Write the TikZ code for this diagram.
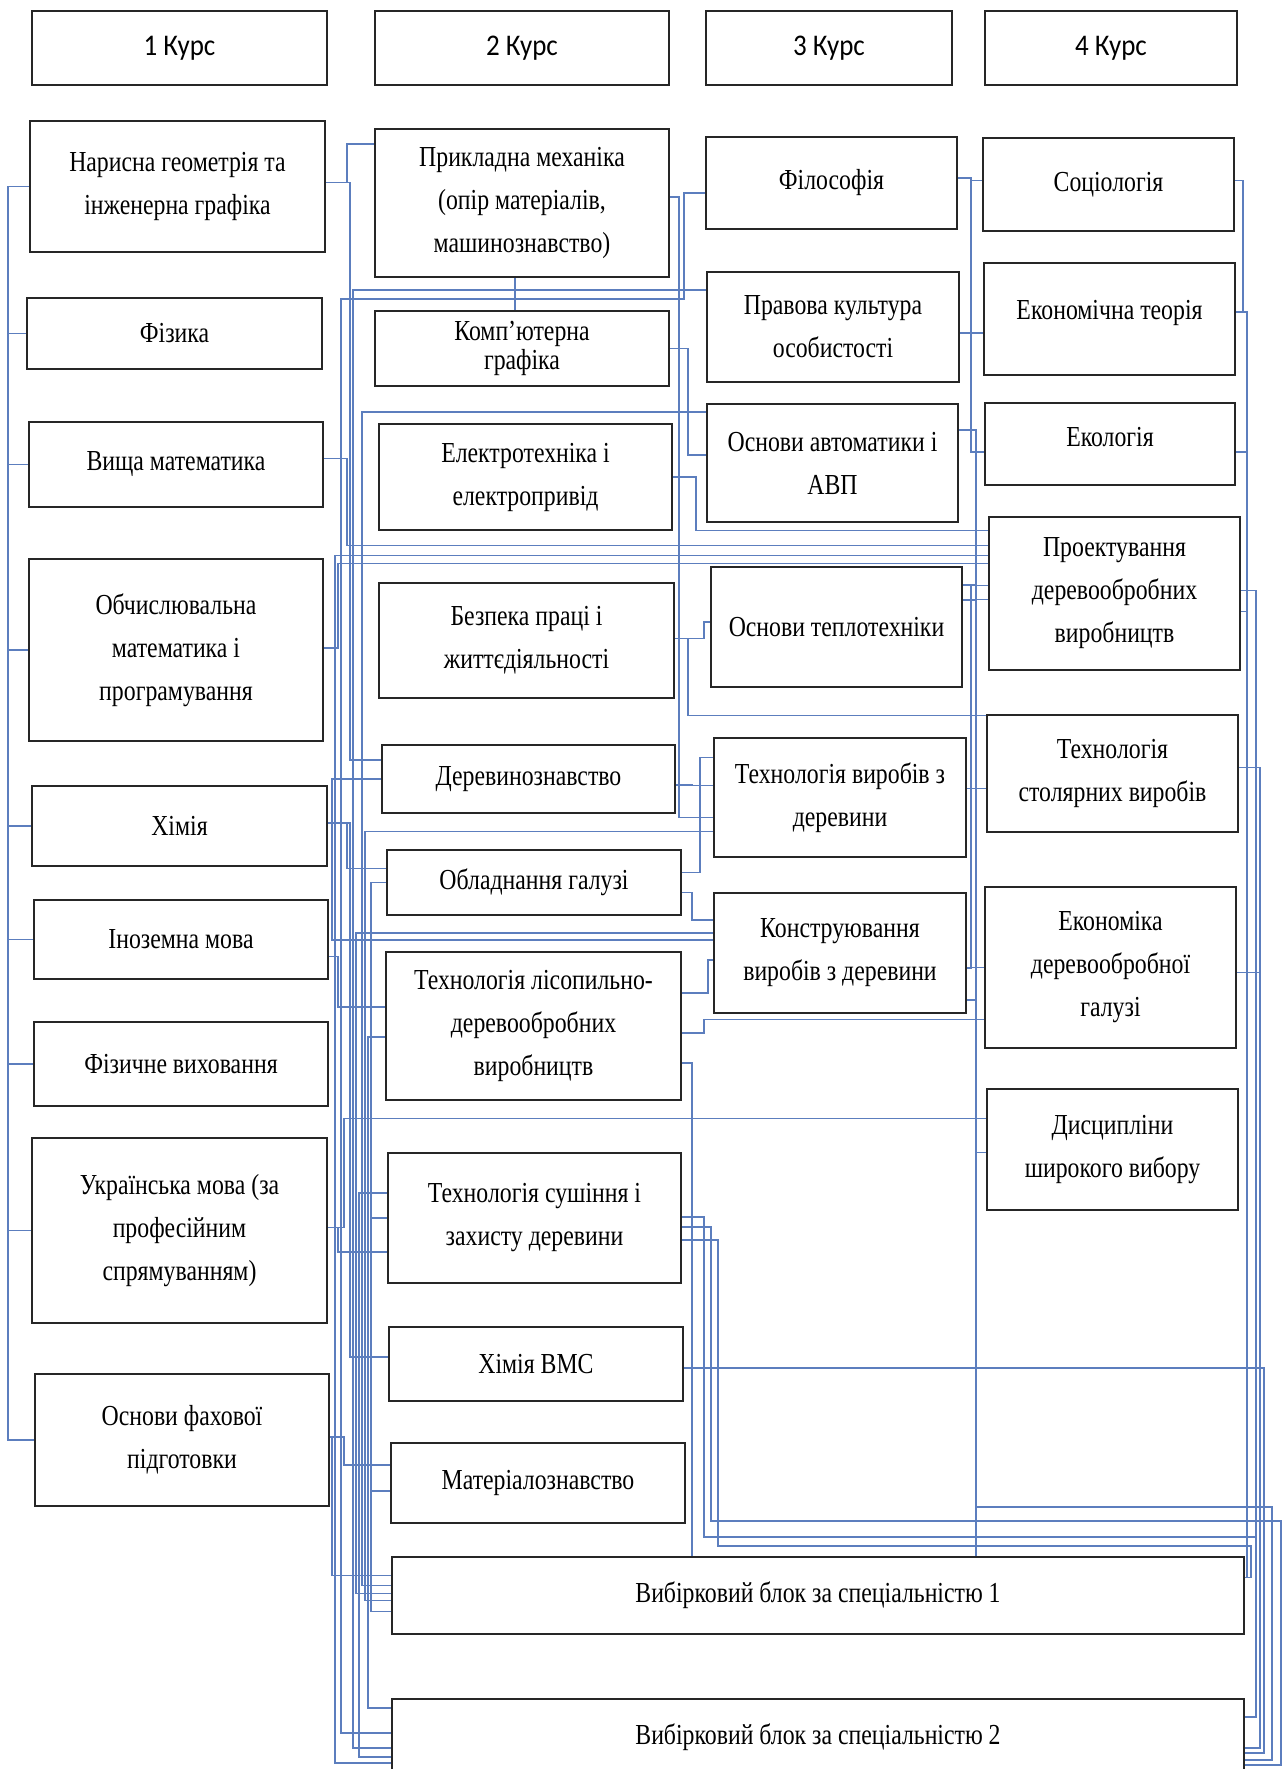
\documentclass[tikz,border=0pt]{standalone}
\usepackage{fontspec}
\setmainfont{Liberation Serif}[FakeStretch=0.82]
\newfontfamily\kursfont{Carlito}[FakeStretch=0.9]
\usetikzlibrary{backgrounds}
\definecolor{linkblue}{RGB}{92,126,190}

\tikzset{
  subj/.style={draw=black!85, line width=2.2pt, fill=white, align=center,
    inner sep=0pt, font=\fontsize{29}{43}\selectfont},
  kurs/.style={subj, font=\kursfont\fontsize{30}{35}\selectfont},
  link/.style={draw=linkblue, line width=1.1pt},
}

\begin{document}
\begin{tikzpicture}[x=1pt,y=-1pt]
  \useasboundingbox (0,0) rectangle (1285,1769);
  \clip (0,0) rectangle (1285,1769);

  % course headers
  \node[kurs, minimum width=295, minimum height=74] (h1) at (179.5,48) {1 Курс};
  \node[kurs, minimum width=294, minimum height=74] (h2) at (522,48) {2 Курс};
  \node[kurs, minimum width=246, minimum height=74] (h3) at (829,48) {3 Курс};
  \node[kurs, minimum width=252, minimum height=74] (h4) at (1111,48) {4 Курс};

  % 1 course
  \node[subj, minimum width=295, minimum height=131] (nar) at (177.5,186.5) {Нарисна геометрія та\\інженерна графіка};
  \node[subj, minimum width=295, minimum height=71] (fiz) at (174.5,333.5) {Фізика};
  \node[subj, minimum width=294, minimum height=85] (vyshch) at (176,464.5) {Вища математика};
  \node[subj, minimum width=294, minimum height=182] (obch) at (176,650) {Обчислювальна\\математика і\\програмування};
  \node[subj, minimum width=295, minimum height=80] (khim) at (179.5,826) {Хімія};
  \node[subj, minimum width=294, minimum height=79] (inoz) at (181,939.5) {Іноземна мова};
  \node[subj, minimum width=294, minimum height=84] (fizv) at (181,1064) {Фізичне виховання};
  \node[subj, minimum width=295, minimum height=185] (ukr) at (179.5,1230.5) {Українська мова (за\\професійним\\спрямуванням)};
  \node[subj, minimum width=294, minimum height=132] (osnf) at (182,1440) {Основи фахової\\підготовки};

  % 2 course
  \node[subj, minimum width=294, minimum height=148] (prik) at (522,203) {Прикладна механіка\\(опір матеріалів,\\машинознавство)};
  \node[subj, minimum width=294, minimum height=75] (komp) at (522,348.5) {Комп’ютерна\\[-14pt]графіка};
  \node[subj, minimum width=293, minimum height=106] (elek) at (525.5,477) {Електротехніка і\\електропривід};
  \node[subj, minimum width=295, minimum height=115] (bezp) at (526.5,640.5) {Безпека праці і\\життєдіяльності};
  \node[subj, minimum width=293, minimum height=68] (derev) at (528.5,779) {Деревинознавство};
  \node[subj, minimum width=294, minimum height=65] (oblad) at (534,882.5) {Обладнання галузі};
  \node[subj, minimum width=295, minimum height=148] (lisop) at (533.5,1026) {Технологія лісопильно-\\деревообробних\\виробництв};
  \node[subj, minimum width=293, minimum height=130] (sush) at (534.5,1218) {Технологія сушіння і\\захисту деревини};
  \node[subj, minimum width=294, minimum height=74] (khvms) at (536,1364) {Хімія ВМС};
  \node[subj, minimum width=294, minimum height=80] (mater) at (538,1483) {Матеріалознавство};

  % 3 course
  \node[subj, minimum width=251, minimum height=92] (filos) at (831.5,183) {Філософія};
  \node[subj, minimum width=252, minimum height=110] (prav) at (833,327) {Правова культура\\особистості};
  \node[subj, minimum width=251, minimum height=118] (avt) at (832.5,463) {Основи автоматики і\\АВП};
  \node[subj, minimum width=251, minimum height=120] (tepl) at (836.5,627) {Основи теплотехніки};
  \node[subj, minimum width=252, minimum height=119] (tvyr) at (840,797.5) {Технологія виробів з\\деревини};
  \node[subj, minimum width=252, minimum height=120] (konstr) at (840,953) {Конструювання\\виробів з деревини};

  % 4 course
  \node[subj, minimum width=251, minimum height=93] (sots) at (1108.5,184.5) {Соціологія};
  \node[subj, minimum width=251, minimum height=112] (ekt) at (1109.5,319) {\raisebox{19pt}{Економічна теорія}};
  \node[subj, minimum width=250, minimum height=82] (ekol) at (1110,444) {\raisebox{14pt}{Екологія}};
  \node[subj, minimum width=251, minimum height=153] (proekt) at (1114.5,593.5) {Проектування\\деревообробних\\виробництв};
  \node[subj, minimum width=251, minimum height=117] (tstol) at (1112.5,773.5) {Технологія\\столярних виробів};
  \node[subj, minimum width=251, minimum height=161] (ekon) at (1110.5,967.5) {Економіка\\деревообробної\\галузі};
  \node[subj, minimum width=251, minimum height=121] (dysc) at (1112.5,1149.5) {Дисципліни\\широкого вибору};

  % elective blocks
  \node[subj, minimum width=852, minimum height=77] (vyb1) at (818,1595.5) {Вибірковий блок за спеціальністю 1};
  \node[subj, minimum width=852, minimum height=76] (vyb2) at (818,1737) {Вибірковий блок за спеціальністю 2};

  % channels between the columns
  \coordinate (lbus) at (8,0);
  \foreach \n/\x in {a/332,b/335,c/338,d/341,e/344,f/347,g/350,h/353,i/356,j/359,k/362,l/365,m/368,n/371}
    \coordinate (g1\n) at (\x,0);
  \foreach \n/\x in {x/679,a/684,b/688,c/692,d/696,e/700,f/704,g/708,h/711,i/718}
    \coordinate (g2\n) at (\x,0);
  \coordinate (g3a) at (971,0);
  \coordinate (g3b) at (976,0);
  \foreach \n/\x in {a/1243,b/1247,c/1251,d/1256,e/1260,f/1264,g/1272,h/1281}
    \coordinate (r\n) at (\x,0);

  \begin{scope}[on background layer]
    % 1 course bracket
    \draw[link] (nar.west) -- (nar.west -| lbus) -- (osnf.west -| lbus) -- (osnf.west);
    \foreach \n in {fiz,vyshch,obch,khim,inoz,fizv,ukr}
      \draw[link] (\n.west) -- (\n.west -| lbus);

    % elbow links: from / shift / channel / to / shift
    \foreach \s/\a/\c/\t/\b in {
        nar.east/4/g1f/prik.west/59, nar.east/4/g1g/derev.west/19,
        vyshch.east/6/g1f/proekt.west/48, obch.east/2/g1c/proekt.west/30,
        khim.east/3/g1f/oblad.west/14, khim.east/3/g1g/khvms.west/7,
        inoz.east/-17/g1c/lisop.west/19, ukr.east/3/g1c/sush.west/-34,
        ukr.east/3/g1e/dysc.west/31, osnf.east/3/g1e/mater.west/18,
        osnf.east/3/g1a/vyb1.west/20,
        proekt.west/38/g1b/vyb2.west/-26, prav.west/37/g1h/vyb2.west/-11,
        avt.west/51/g1k/vyb1.west/10, konstr.west/20/g1i/vyb1.west/2,
        tvyr.west/-34/g1l/vyb1.west/-5, derev.west/0/g1a/konstr.west/13,
        oblad.west/0/g1n/mater.west/-8, sush.west/0/g1n/vyb1.west/-16,
        lisop.west/-11/g1m/vyb2.west/29, sush.west/25/g1j/vyb2.west/-20,
        prik.east/6/g2x/tvyr.west/-20, komp.east/0/g2b/avt.west/8,
        elek.east/0/g2d/proekt.west/63, bezp.east/2/g2f/tepl.west/5,
        bezp.east/2/g2b/tstol.west/58, derev.east/-6/g2c/tvyr.west/12,
        oblad.east/10/g2e/tvyr.west/40, oblad.east/-10/g2c/konstr.west/33,
        lisop.east/33/g2g/konstr.west/-7, lisop.east/-7/g2f/ekon.west/-52,
        filos.east/5/g3a/sots.west/4, filos.east/5/g3a/ekt.west/-14,
        prav.east/-6/g3a/ekt.west/-14, prav.east/-6/g3a/ekol.west/-8,
        avt.east/33/g3a/ekol.west/-8, avt.east/33/g3b/proekt.west/-6,
        tepl.east/42/g3b/proekt.west/8, tepl.east/42/g3a/tstol.west/-15,
        tvyr.east/9/g3a/tstol.west/-15, tvyr.east/9/g3a/ekon.west/0,
        konstr.east/-15/g3a/ekon.west/0, konstr.east/-47/g3b/dysc.west/-3,
        sots.east/4/ra/ekt.east/7, ekt.east/7/rb/vyb1.east/18,
        ekol.east/-8/rb/vyb1.east/18, proekt.east/-18/rb/vyb1.east/18,
        proekt.east/3/rd/vyb2.east/20, tstol.east/6/re/vyb2.east/-11,
        ekon.east/-5/re/vyb2.east/-11}
      \draw[link] ([yshift=\a]\s) -- ([yshift=\a]\s -| \c) |- ([yshift=\b]\t);

    % longer runs
    \draw[link] ([yshift=-10]filos.west) -- ([yshift=-10]filos.west -| g2a) -- ++(0,106)
      -| ([yshift=4]vyb2.west -| g1d) -- ([yshift=4]vyb2.west);
    \draw[link] ([yshift=-37]lisop.east) -- ([yshift=-37]lisop.east -| g2c) -- (g2c |- vyb1.north);
    \draw[link] ([yshift=1]sush.east) -- ([yshift=1]sush.east -| g2f) -- ++(0,320)
      -| ([yshift=20]vyb2.east -| rd) -- ([yshift=20]vyb2.east);
    \draw[link] ([yshift=-9]sush.east) -- ([yshift=-9]sush.east -| g2h) -- ++(0,294)
      -| ([yshift=-28]vyb2.east -| rh) -- ([yshift=-28]vyb2.east);
    \draw[link] ([yshift=-22]sush.east) -- ([yshift=-22]sush.east -| g2i) -- ++(0,306)
      -| ([yshift=18]vyb1.east -| rc) -- ([yshift=18]vyb1.east);
    \draw[link] ([yshift=-4]khvms.east) -| ([yshift=-16]vyb2.east -| rf) -- ([yshift=-16]vyb2.east);
    \draw[link] ([yshift=27]tepl.east) -- ([yshift=27]tepl.east -| g3b) -- ++(0,907)
      -| ([yshift=-23]vyb2.east -| rg) -- ([yshift=-23]vyb2.east);
    \draw[link] ([yshift=-47]konstr.east) -- ([yshift=-47]konstr.east -| g3b) -- (g3b |- vyb1.north);
    \draw[link] ([xshift=-7]prik.south) -- ([xshift=-7]komp.north);
  \end{scope}
\end{tikzpicture}
\end{document}
